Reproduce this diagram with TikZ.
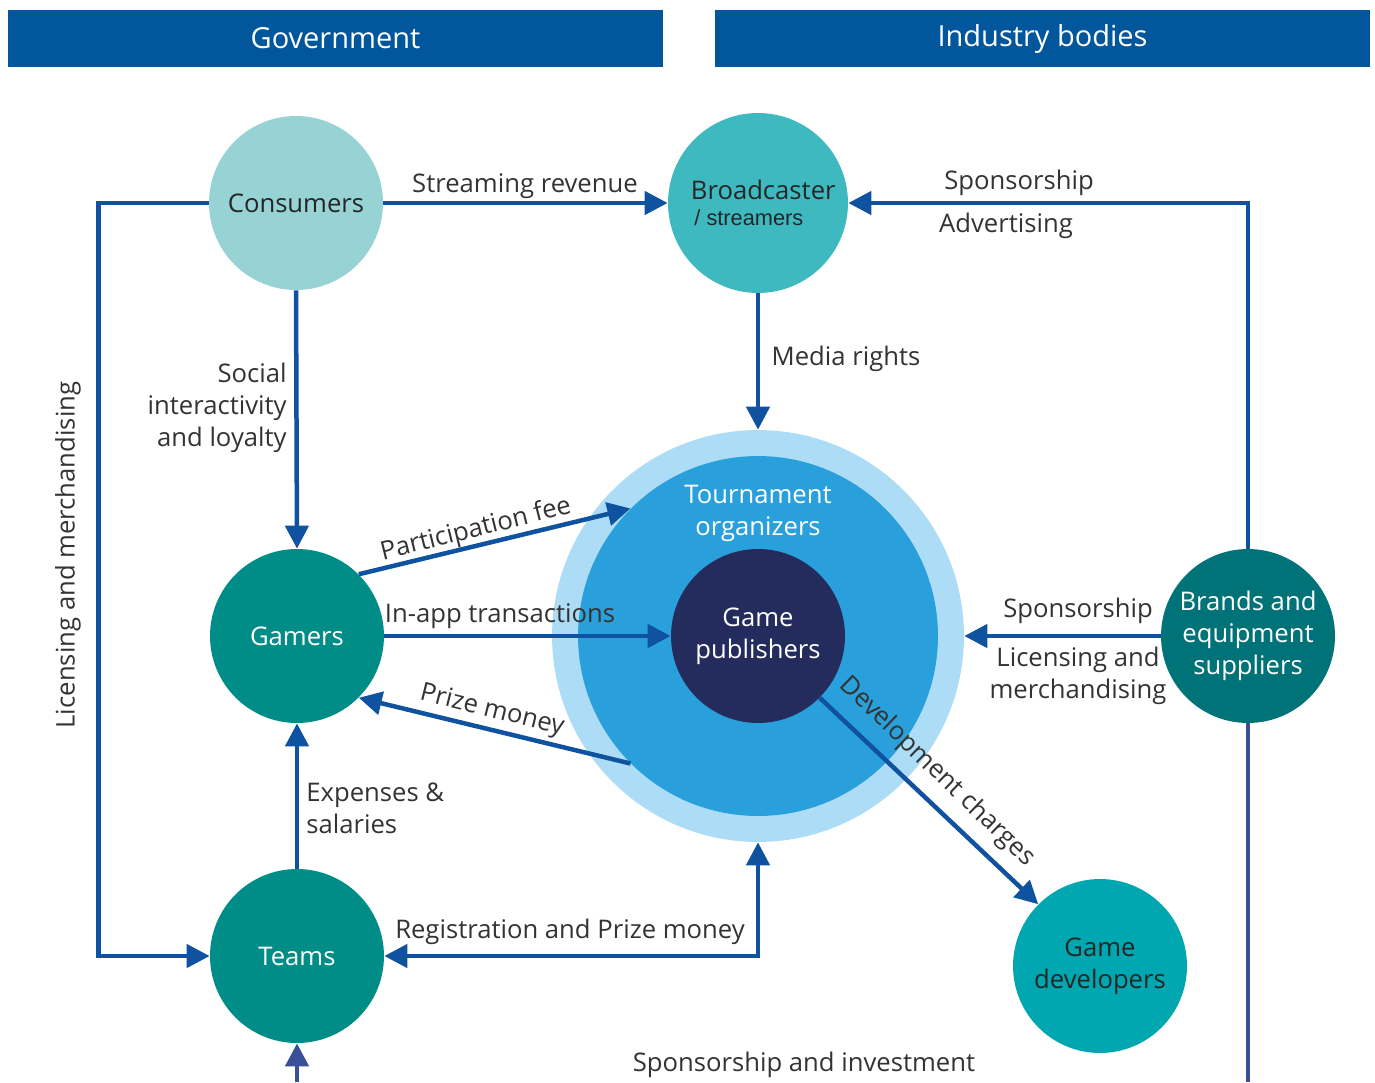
\documentclass[tikz,border=0pt]{standalone}
\usepackage{fontspec}
\setmainfont{Open Sans}
\newfontfamily\arialfont{Liberation Sans}
\usetikzlibrary{arrows.meta}

\definecolor{bannerblue}{RGB}{2,86,155}
\definecolor{flowblue}{RGB}{15,82,160}
\definecolor{fundblue}{RGB}{58,79,154}
\definecolor{labelgray}{RGB}{51,51,51}
\definecolor{consumercol}{RGB}{151,210,212}
\definecolor{broadcastcol}{RGB}{62,185,192}
\definecolor{gamercol}{RGB}{0,140,135}
\definecolor{brandcol}{RGB}{0,115,120}
\definecolor{devcol}{RGB}{0,167,176}
\definecolor{ringcol}{RGB}{173,221,246}
\definecolor{tourncol}{RGB}{41,160,219}
\definecolor{pubcol}{RGB}{35,44,92}

\begin{document}
\begin{tikzpicture}[x=0.02cm,y=-0.02cm,>={Triangle[length=0.46cm,width=0.46cm]},
    font=\fontsize{14.6}{18.2}\selectfont]
  \tikzstyle{vertex}=[circle,inner sep=0pt,minimum size=3.48cm,align=center,text=white]
  \tikzstyle{flow}=[draw=flowblue,line width=0.09cm]
  \tikzstyle{fund}=[draw=fundblue,line width=0.09cm]
  \tikzstyle{lbl}=[text=labelgray,inner sep=0pt,align=center]
  \tikzstyle{banner}=[fill=bannerblue,text=white,minimum width=13.1cm,minimum height=1.14cm,
    font=\fontsize{16.5}{20}\selectfont]
  \useasboundingbox (0,0) rectangle (1375,1082);

  \node[banner] (gov) at (335.5,38.5) {Government};
  \node[banner] (ind) at (1042.5,38.5) {Industry bodies};

  % the event core
  \node[circle,fill=ringcol,minimum size=8.24cm] (ring) at (758,636) {};
  \node[circle,fill=tourncol,minimum size=7.2cm] (tourn) at (758,636) {};
  \node[text=white,align=center] at (758,513) {Tournament\\organizers};
  \node[vertex,fill=pubcol] (pub) at (758,636) {Game\\publishers};

  \node[vertex,fill=consumercol,text=black!85] (cons) at (296,203) {Consumers};
  \node[vertex,fill=broadcastcol,text=black!85,minimum size=3.6cm,align=left] (broad) at (758,203)
        {\hspace*{6pt}Broadcaster\\[-3pt]\hspace*{8pt}{\arialfont\fontsize{12.4}{14}\selectfont / streamers}};
  \node[vertex,fill=gamercol] (gamers) at (297,636) {Gamers};
  \node[vertex,fill=gamercol] (teams) at (297,956) {Teams};
  \node[vertex,fill=brandcol] (brands) at (1248,636) {Brands and\\equipment\\suppliers};
  \node[vertex,fill=devcol,text=black!85] (dev) at (1100,966) {Game\\developers};

  \coordinate (teamsfoot) at (297,1082);
  \coordinate (brandsfoot) at (1248,1082);

  \draw[flow,->] (cons) -- (broad);
  \draw[flow,->] (brands.north) |- (broad.east);
  \draw[flow,->] (broad.south) -- (ring.north);
  \draw[flow,->] (cons.south) -- (gamers.north);
  \draw[flow,->] (cons.west) -- ++(-110,0) |- (teams.west);
  \draw[flow,->] (gamers.45) -- (tourn.135);
  \draw[flow,->] (gamers.east) -- (pub.west);
  \draw[flow,->] (tourn.225) -- (gamers.-45);
  \draw[flow,->] (teams.north) -- (gamers.south);
  \draw[flow,<->] (teams.east) -| (ring.south);
  \draw[flow,->] (brands.west) -- (ring.east);
  \draw[flow,->] (pub.-45) -- (dev.135);
  \draw[fund] (brands.south) -- (brandsfoot);
  \draw[fund,->] (teamsfoot) -- (teams.south);

  \node[lbl] (l_stream) at (525,186) {Streaming revenue};
  \node[lbl] (l_spons1) at (1019,183) {Sponsorship};
  \node[lbl] (l_advert) at (1006,226) {Advertising};
  \node[lbl] (l_media) at (846,359) {Media rights};
  \node[lbl,align=right,anchor=east] (l_social) at (287,408) {Social\\interactivity\\and loyalty};
  \node[lbl,rotate=90] (l_licmer) at (68,555) {Licensing and merchandising};
  \node[lbl,rotate=14] (l_part) at (476,530) {Participation fee};
  \node[lbl] (l_inapp) at (500,616) {In-app transactions};
  \node[lbl,rotate=-14] (l_prize) at (492,711) {Prize money};
  \node[lbl,align=left,anchor=west] (l_exp) at (306,808) {Expenses \&\\salaries};
  \node[lbl] (l_reg) at (570,932) {Registration and Prize money};
  \node[lbl] (l_spons2) at (1078,611) {Sponsorship};
  \node[lbl] (l_licmer2) at (1078,676) {Licensing and\\merchandising};
  \node[lbl,rotate=-44] (l_dev) at (937,772) {Development charges};
  \node[lbl] (l_sponsinv) at (804,1065) {Sponsorship and investment};
\end{tikzpicture}
\end{document}
